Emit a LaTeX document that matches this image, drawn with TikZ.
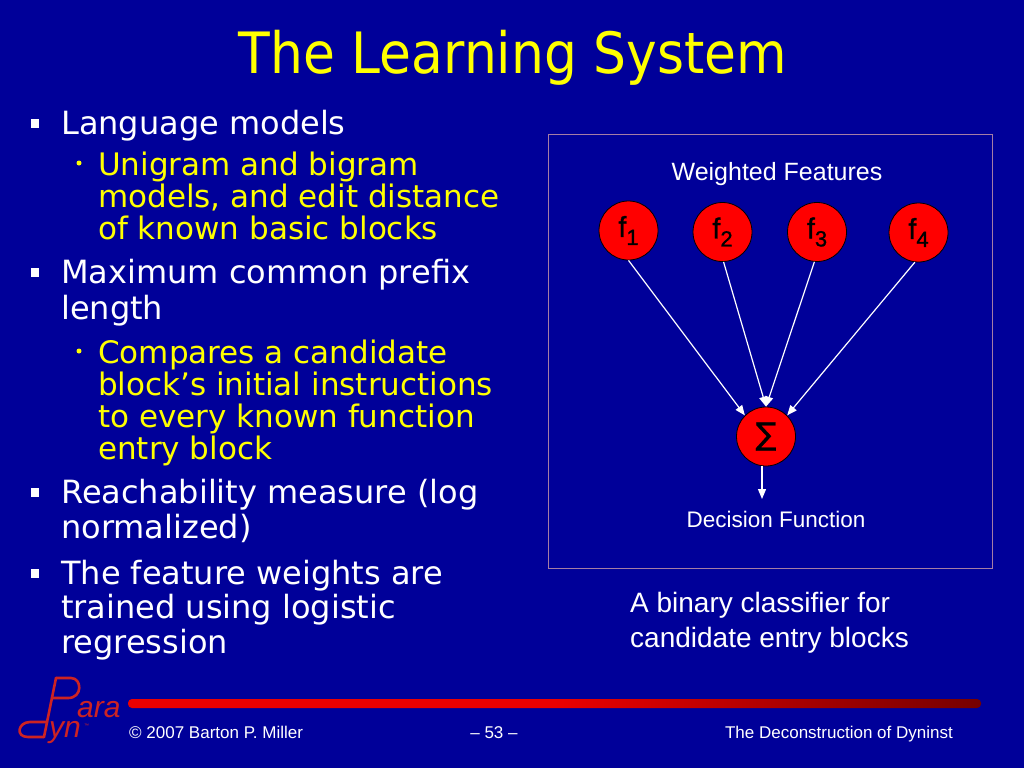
\documentclass[tikz,border=0pt]{standalone}
\usepackage{fontspec}
\setmainfont{DejaVu Sans}
\newfontfamily\arialf{Liberation Sans}
\newfontfamily\arialfb[FakeBold=1.2]{Liberation Sans}
\newfontfamily\dejav[FakeBold=0.8]{DejaVu Sans}
\usetikzlibrary{arrows.meta}
\definecolor{bgblue}{RGB}{0,0,153}
\definecolor{ttlyellow}{RGB}{255,255,0}
\definecolor{boxborder}{RGB}{165,125,165}
\definecolor{logored}{RGB}{205,35,35}
\definecolor{barred}{RGB}{235,0,0}
\definecolor{lblblack}{RGB}{0,0,0}
\pgfdeclarehorizontalshading{barshade}{100bp}{color(0bp)=(barred); color(50bp)=(barred); color(100bp)=(black)}
\tikzset{
  lvlone/.style={anchor=base west, inner sep=0, text=white, font=\fontsize{32}{32}\selectfont},
  lvltwo/.style={anchor=base west, inner sep=0, text=ttlyellow, font=\fontsize{31}{31}\selectfont},
  sqbullet/.style={fill=white, draw=none, minimum width=8, minimum height=9, inner sep=0},
  dotbullet/.style={circle, fill=ttlyellow, draw=none, minimum size=5, inner sep=0},
  feat/.style={circle, fill=red, draw=black, line width=0.8, minimum size=59, inner sep=0},
  flabel/.style={inner sep=0, text=lblblack, font=\arialfb\fontsize{29}{29}\selectfont},
  arr/.style={draw=white, line width=1.2, -{Triangle[length=10,width=8]}},
  dtext/.style={inner sep=0, text=white, font=\arialf\fontsize{25}{25}\selectfont},
  foot/.style={inner sep=0, text=white, font=\arialf\fontsize{17}{17}\selectfont},
  logo/.style={draw=logored, line width=2.6, line cap=round, line join=round},
  logotext/.style={inner sep=0, anchor=base west, text=logored, font=\arialf\itshape\fontsize{30}{30}\selectfont}
}
\newcommand{\fsub}[1]{f\raisebox{-8pt}{\fontsize{22}{22}\selectfont #1}}
\begin{document}
\begin{tikzpicture}[x=1pt,y=-1pt]
\fill[bgblue] (0,0) rectangle (1024,768);
\useasboundingbox (0,0) rectangle (1024,768);

% title
\node[inner sep=0, anchor=base, text=ttlyellow, font=\fontsize{57}{57}\selectfont, xscale=0.91, transform shape] (title) at (513,73) {The Learning System};

% bullets
\node[sqbullet] (b1) at (35,123) {};
\node[lvlone] (l1) at (61,134) {Language models};
\node[dotbullet] (d1) at (79,163) {};
\node[lvltwo] (l2a) at (98,175) {Unigram and bigram};
\node[lvltwo] (l2b) at (98,207) {models, and edit distance};
\node[lvltwo] (l2c) at (98,239) {of known basic blocks};
\node[sqbullet] (b2) at (35,272) {};
\node[lvlone] (l3a) at (61,283) {Maximum common prefix};
\node[lvlone] (l3b) at (61,319) {length};
\node[dotbullet] (d2) at (79,351) {};
\node[lvltwo] (l4a) at (98,363) {Compares a candidate};
\node[lvltwo] (l4b) at (98,395) {block’s initial instructions};
\node[lvltwo] (l4c) at (98,427) {to every known function};
\node[lvltwo] (l4d) at (98,459) {entry block};
\node[sqbullet] (b3) at (35,492) {};
\node[lvlone] (l5a) at (61,503) {Reachability measure (log};
\node[lvlone] (l5b) at (61,538) {normalized)};
\node[sqbullet] (b4) at (35,573) {};
\node[lvlone] (l6a) at (61,584) {The feature weights are};
\node[lvlone] (l6b) at (61,618) {trained using logistic};
\node[lvlone] (l6c) at (61,653) {regression};

% diagram box
\draw[boxborder, line width=1] (548,134) rectangle (992,568);
\node[dtext, anchor=base] (wf) at (777,180) {Weighted Features};
\node[feat] (f1) at (628.5,230.5) {};
\node[feat] (f2) at (722.5,232) {};
\node[feat] (f3) at (817,232) {};
\node[feat] (f4) at (918.5,232.5) {};
\node[feat] (s) at (766,436.5) {};
\node[flabel] (t1) at (f1) {\fsub{1}};
\node[flabel] (t2) at (f2) {\fsub{2}};
\node[flabel] (t3) at (f3) {\fsub{3}};
\node[flabel] (t4) at (f4) {\fsub{4}};
\node[flabel, font=\dejav\fontsize{31}{31}\selectfont] (ts) at (s) {∑};
\draw[arr] (f1.south) -- (s.135);
\draw[arr] (f2.-88) -- (s.90);
\draw[arr] (f3.-95) -- (s.90);
\draw[arr] (f4.-97) -- (s.45);
\node[dtext, anchor=base, font=\arialf\fontsize{22.5}{22.5}\selectfont] (dec) at (776,527) {Decision Function};
\coordinate (dtip) at (762,499);
\draw[arr] (s.south -| dtip) -- (dtip);

\node[dtext, anchor=base west, font=\arialf\fontsize{28}{28}\selectfont] (cap1) at (630,612) {A binary classifier for};
\node[dtext, anchor=base west, font=\arialf\fontsize{28}{28}\selectfont] (cap2) at (630,647) {candidate entry blocks};

% footer bar
\shade[shading=barshade, rounded corners=4] (128,699) rectangle (981,708);
\node[foot, anchor=base west] (copy) at (129,738) {© 2007 Barton P. Miller};
\node[foot, anchor=base] (pg) at (494,738) {– 53 –};
\node[foot, anchor=base east] (ttl2) at (953,738) {The Deconstruction of Dyninst};

% logo
\draw[logo] (56,678) -- (44,737);
\draw[logo] (56,678) -- (71,678) .. controls (82,678) and (83,698) .. (68,698) -- (52,698);
\draw[logo] (47,722) -- (30,722) .. controls (18,722) and (15,737) .. (28,737) -- (44,737);
\node[logotext] (lara) at (77,717) {ara};
\node[logotext] (lyn) at (49,737) {yn};
\node[inner sep=0, anchor=base west, text=logored, font=\arialf\fontsize{5}{5}\selectfont] (ltm) at (84,727) {™};
\end{tikzpicture}
\end{document}
